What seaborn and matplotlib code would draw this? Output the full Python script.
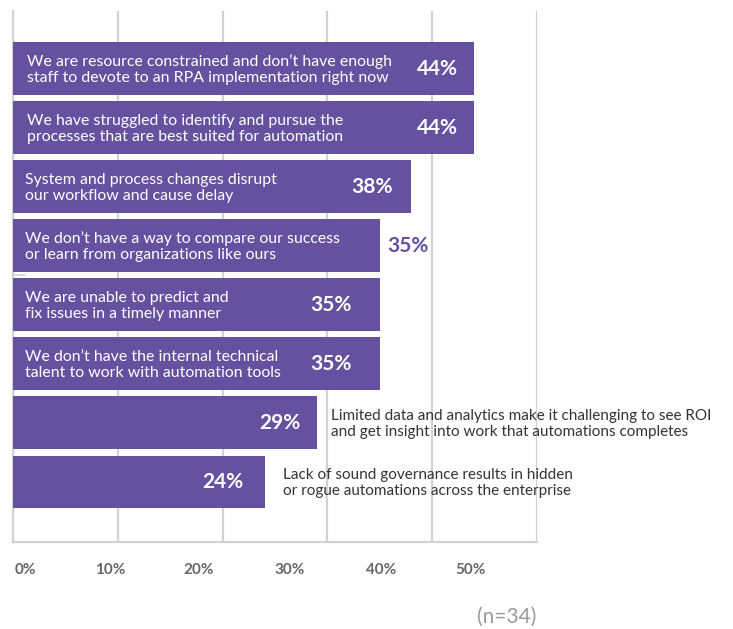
import matplotlib
matplotlib.use("Agg")
import matplotlib.pyplot as plt
import matplotlib.transforms as mtransforms
import seaborn as sns
import pandas as pd

challenges = [
    "We are resource constrained and don\u2019t have enough\nstaff to devote to an RPA implementation right now",
    "We have struggled to identify and pursue the\nprocesses that are best suited for automation",
    "System and process changes disrupt\nour workflow and cause delay",
    "We don\u2019t have a way to compare our success\nor learn from organizations like ours",
    "We are unable to predict and\nfix issues in a timely manner",
    "We don\u2019t have the internal technical\ntalent to work with automation tools",
    "Limited data and analytics make it challenging to see ROI\nand get insight into work that automations completes",
    "Lack of sound governance results in hidden\nor rogue automations across the enterprise",
]
shares = [44, 44, 38, 35, 35, 35, 29, 24]
tick_values = [0, 10, 20, 30, 40, 50]
tick_labels = ["0%", "10%", "20%", "30%", "40%", "50%"]
sample_note = "(n=34)"

PURPLE = "#6551a0"
GRID = "#d2d2d2"

df = pd.DataFrame({"challenge": challenges, "share": shares})

sns.set_style("white")
plt.rcParams["font.family"] = ["Lato", "DejaVu Sans"]

W, H = 733, 629
fig = plt.figure(figsize=(W / 100, H / 100), dpi=100)
left, right, top, bottom = 13, 537, 11, 542
ax = fig.add_axes([left / W, 1 - bottom / H, (right - left) / W, (bottom - top) / H])

sns.barplot(data=df, x="share", y="challenge", orient="h", color=PURPLE,
            saturation=1, width=0.89, ax=ax, zorder=3)
for p in ax.patches:
    p.set_edgecolor("none")

ax.set_xlim(0, 50)
ax.set_ylim(8.02, -0.975)
ax.set_xlabel("")
ax.set_ylabel("")
ax.set_yticks([])
ax.set_xticks(tick_values)
ax.set_xticklabels([])
ax.tick_params(axis="x", length=0)
ax.grid(axis="x", color=GRID, linewidth=1.6, zorder=0)
for s in ["top", "right"]:
    ax.spines[s].set_visible(False)
ax.spines["left"].set_color(GRID)
ax.spines["left"].set_linewidth(1.6)
ax.spines["bottom"].set_color(GRID)
ax.spines["bottom"].set_linewidth(1.6)

px = 50 / (right - left)  # data units per pixel

inside_text = [True, True, True, True, True, True, False, False]
value_right_gap = [16, 16, 18, None, 28, 28, 16, 21]
TXT = 11.4
VAL = 15

for i, (txt, v) in enumerate(zip(challenges, shares)):
    if inside_text[i]:
        ax.text(14 * px if i < 2 else 12 * px, i + 0.02, txt, color="white", fontsize=TXT,
                va="center", ha="left", linespacing=1.22, zorder=4)
    else:
        gap = 14 if i == 6 else 18
        ax.text(v + gap * px, i + 0.02, txt, color="#333333", fontsize=TXT - 0.4,
                va="center", ha="left", linespacing=1.25, zorder=4)
    if value_right_gap[i] is None:
        ax.text(v + 7 * px, i, f"{v}%", color=PURPLE, fontsize=VAL,
                fontweight="bold", va="center", ha="left", zorder=4)
    else:
        ax.text(v - value_right_gap[i] * px, i, f"{v}%", color="white", fontsize=VAL,
                fontweight="bold", va="center", ha="right", zorder=4)

# small tick stub on the left axis
ax.plot([0, 12 * px], [3.5, 3.5], color=GRID, linewidth=1.2, zorder=2, clip_on=False)

# x tick labels sit slightly left of the gridlines
label_px = [25, 110, 199, 290, 381, 471]
trans = mtransforms.blended_transform_factory(ax.transData, fig.transFigure)
for lp, lab in zip(label_px, tick_labels):
    ax.text((lp - left) * px, 1 - 570 / H, lab, transform=trans, ha="center", va="center",
            color="#666666", fontsize=11, fontweight="bold")

fig.text(507 / W, 1 - 617 / H, sample_note, ha="center", va="center",
         color="#9a9a9a", fontsize=15)

fig.savefig("out.png", dpi=100)
